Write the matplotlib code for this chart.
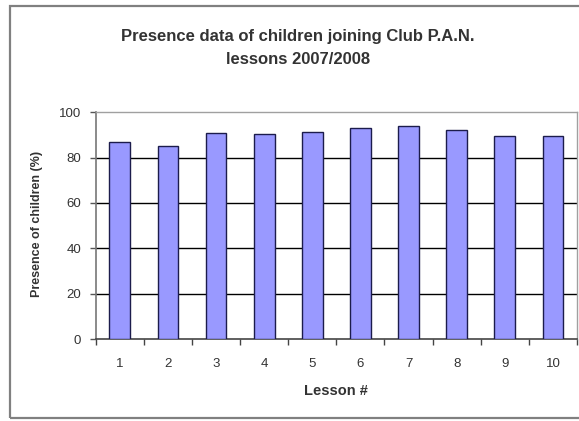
import matplotlib
matplotlib.use('Agg')
import matplotlib.pyplot as plt
from matplotlib.patches import Rectangle
import numpy as np

# Attendance per lesson (%)
lessons = ['1', '2', '3', '4', '5', '6', '7', '8', '9', '10']
presence = [87.0, 85.3, 90.7, 90.6, 91.5, 92.9, 94.0, 92.2, 89.5, 89.5]
y_ticks = [0, 20, 40, 60, 80, 100]

title_lines = ['Presence data of children joining Club P.A.N.', 'lessons 2007/2008']
x_title = 'Lesson #'
y_title = 'Presence of children (%)'

plt.rcParams['font.family'] = ['Liberation Sans', 'DejaVu Sans']

W, H = 579, 421
fig = plt.figure(figsize=(W / 100, H / 100), dpi=100)
fig.patch.set_facecolor('white')


def fx(px):
    return px / W


def fy(py):
    return 1 - py / H


text_col = '#333333'

# chart area frame
fig.patches.append(Rectangle((fx(10), fy(418)), 1.2, fy(6) - fy(418),
                             transform=fig.transFigure, fill=False,
                             edgecolor='#808080', lw=1.6))

ax = fig.add_axes([fx(95.7), fy(339), fx(577) - fx(95.7), fy(112.3) - fy(339)])
ax.set_facecolor('white')

x = np.arange(len(lessons))
ax.bar(x, presence, width=0.43, color='#9999ff', edgecolor='#1c1c4c', lw=1.0, zorder=3)

for v in y_ticks[1:-1]:
    ax.axhline(v, color='black', lw=1.0, zorder=1)

ax.set_xlim(-0.5, len(lessons) - 0.5)
ax.set_ylim(y_ticks[0], y_ticks[-1])
ax.set_yticks(y_ticks)
ax.set_xticks(x, lessons)
ax.set_xticks(np.arange(-0.5, len(lessons), 1), minor=True)

ax.tick_params(axis='x', which='major', length=0, pad=14, labelsize=9.5, labelcolor=text_col)
ax.tick_params(axis='x', which='minor', length=4, width=1, direction='out', color='#444444')
ax.tick_params(axis='y', length=4.5, width=1, direction='out', color='#555555', pad=6,
               labelsize=9.5, labelcolor=text_col)

for side in ['top', 'right']:
    ax.spines[side].set_color('#a0a0a0')
    ax.spines[side].set_linewidth(1.0)
ax.spines['left'].set_color('#777777')
ax.spines['left'].set_linewidth(1.2)
ax.spines['bottom'].set_color('#444444')
ax.spines['bottom'].set_linewidth(1.2)

fig.text(fx(298), fy(36), title_lines[0], ha='center', va='center',
         fontsize=12, fontweight='bold', color=text_col)
fig.text(fx(298), fy(60), title_lines[1], ha='center', va='center',
         fontsize=12, fontweight='bold', color=text_col)
fig.text(fx(336), fy(391), x_title, ha='center', va='center',
         fontsize=10.5, fontweight='bold', color=text_col)
fig.text(fx(37), fy(224), y_title, ha='center', va='center', rotation=90,
         fontsize=9, fontweight='bold', color=text_col)

fig.savefig('out.png', dpi=100, facecolor='white')
